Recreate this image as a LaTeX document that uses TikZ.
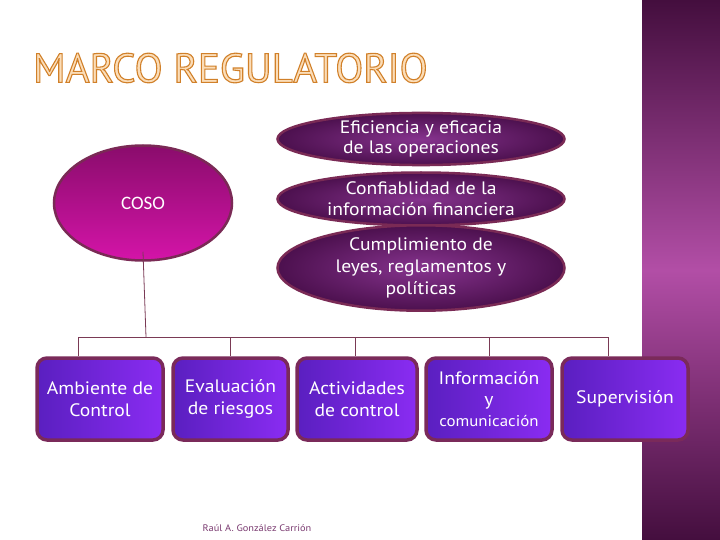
\documentclass[tikz,border=0pt]{standalone}
\usepackage{fontspec}
\setmainfont{PT Sans}[FakeStretch=1.09]
\newfontfamily\titlefont{PT Sans}
\newfontfamily\cosofont{Carlito}
\usetikzlibrary{shapes.geometric,calc}
\definecolor{bandD}{HTML}{440E3E}
\definecolor{bandL}{HTML}{B24EA6}
\definecolor{ellIn}{HTML}{86338E}
\definecolor{ellOut}{HTML}{4C104E}
\definecolor{ellBorder}{HTML}{7A2A55}
\definecolor{cosoTop}{HTML}{8A0C6C}
\definecolor{cosoBot}{HTML}{D414A8}
\definecolor{boxA}{HTML}{5A1FC0}
\definecolor{boxB}{HTML}{8A2CF2}
\definecolor{boxBorder}{HTML}{7A2A5A}
\definecolor{lineC}{HTML}{7A3A55}
\definecolor{titleFill}{HTML}{FBDDB8}
\definecolor{authorC}{HTML}{7A3A70}
\newcommand{\outlinedtext}[1]{\special{pdf:literal direct 0.82 0.50 0.16 RG 1.1 w 2 Tr}#1\special{pdf:literal direct 0 Tr}}
\tikzset{
  goal/.style={ellipse, draw=ellBorder, line width=2.5pt, inner color=ellIn, outer color=ellOut,
     minimum width=287pt, text=white, align=center, inner sep=0pt},
  comp/.style={rounded corners=10pt, draw=boxBorder, line width=3.5pt, left color=boxA, right color=boxB,
     text=white, align=center, font=\fontsize{18}{22}\selectfont, inner sep=0pt},
  conn/.style={draw=lineC, line width=0.8pt}
}
\begin{document}
\begin{tikzpicture}[x=1pt,y=-1pt]
\useasboundingbox (0,0) rectangle (720,540);
\fill[white] (0,0) rectangle (720,540);
% right band
\shade[top color=bandD, bottom color=bandL] (642,0) rectangle (720,270);
\shade[top color=bandL, bottom color=bandD] (642,270) rectangle (720,540);
% title
\node[text=titleFill, font=\titlefont\fontsize{41}{44}\selectfont, anchor=west, inner sep=0pt] (title) at (33,68) {\outlinedtext{MARCO REGULATORIO}};
% COSO
\node[ellipse, draw=ellBorder, line width=2.5pt, top color=cosoTop, bottom color=cosoBot,
  minimum width=178pt, minimum height=115pt, text=white, font=\cosofont\fontsize{19}{22}\selectfont] (coso) at (143,203) {COSO};
% objectives
\node[goal, minimum height=48pt, font=\fontsize{18}{20.5}\selectfont] (e1) at (421,139) {Eficiencia y eficacia\\de las operaciones};
\node[goal, minimum height=53pt, font=\fontsize{18}{21}\selectfont] (e2) at (421,199) {Confiablidad de la\\información financiera};
\node[goal, minimum height=60pt, font=\fontsize{18}{22}\selectfont] (e3) at (421,268) {Cumplimiento de\\leyes, reglamentos y\\políticas};
% components
\node[comp, minimum width=126pt, minimum height=82pt] (b1) at (100,399) {Ambiente de\\Control};
\node[comp, minimum width=115pt, minimum height=82pt] (b2) at (230.5,399) {Evaluación\\de riesgos};
\node[comp, minimum width=120pt, minimum height=82pt] (b3) at (357,399) {Actividades\\de control};
\node[comp, minimum width=126pt, minimum height=82pt, font=\fontsize{18}{21}\selectfont] (b4) at (489,399) {Información\\y\\{\fontsize{15.5}{18}\selectfont comunicación}};
\node[comp, minimum width=126pt, minimum height=82pt] (b5) at (625,399) {Supervisión};
% connectors
\coordinate (hub) at (146,337);
\coordinate (d1) at ([xshift=-22pt]b1.north);
\coordinate (d2) at (b2.north);
\coordinate (d3) at ([xshift=-2pt]b3.north);
\coordinate (d4) at (b4.north);
\coordinate (d5) at ([xshift=-17pt]b5.north);
\draw[conn] ([yshift=10pt]coso.south) -- (hub);
\draw[conn] (d1 |- hub) -- (d5 |- hub);
\foreach \d in {d1,d2,d3,d4,d5}{
  \draw[conn] (\d |- hub) -- (\d);
}
% author
\node[text=authorC, font=\fontsize{9.5}{10}\selectfont] (author) at (257,528) {Raúl A. González Carrión};
\end{tikzpicture}
\end{document}
